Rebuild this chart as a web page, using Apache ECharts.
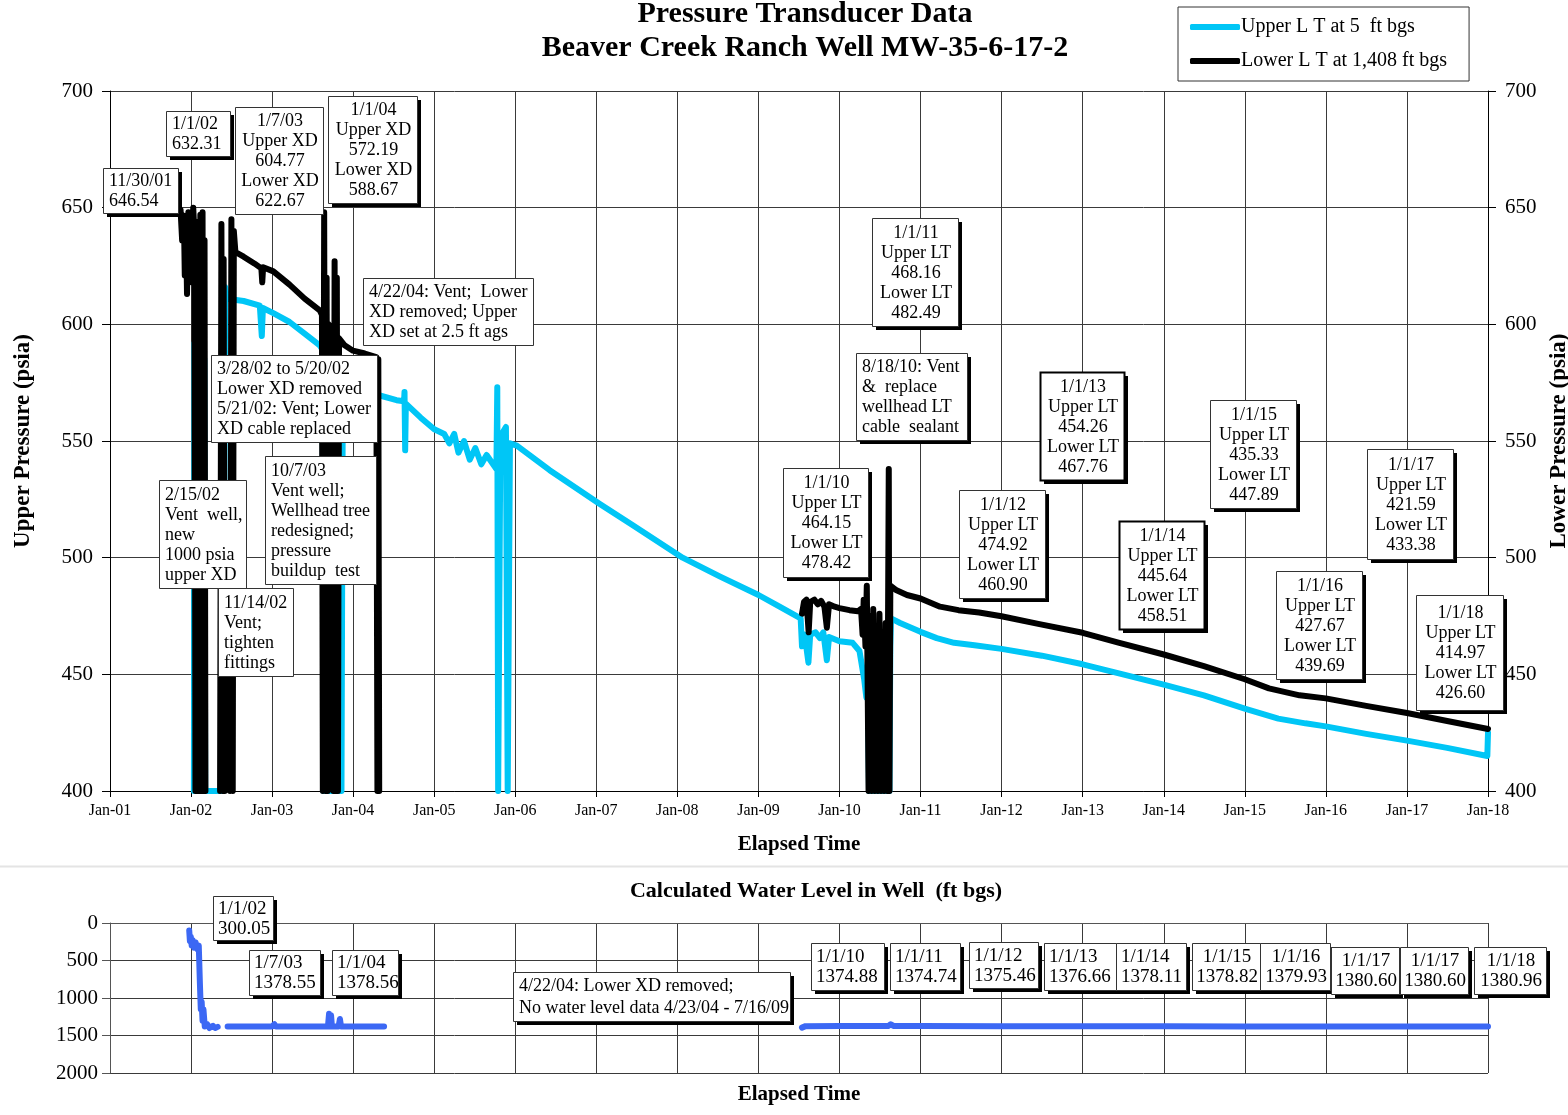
<!DOCTYPE html>
<html>
<head>
<meta charset="utf-8">
<script src="https://cdn.jsdelivr.net/npm/echarts@6/dist/echarts.min.js"></script>
<style>
  html, body { margin: 0; padding: 0; background: #fff; }
  #chart { width: 1568px; height: 1115px; }
</style>
</head>
<body>
<div id="chart"></div>
<script>
// Upper LT at 5 ft bgs (psia)
const upperLT = [
  ['2002-01-14', 400], ['2002-01-17', 592], ['2002-01-21', 400],
  ['2002-02-27', 400], ['2002-03-02', 585], ['2002-03-06', 400],
  ['2002-05-26', 400], ['2002-06-04', 616], ['2002-06-12', 611],
  ['2002-08-26', 610], ['2002-11-07', 608], ['2002-11-16', 595], ['2002-11-21', 607],
  ['2003-01-07', 604.8], ['2003-03-21', 601], ['2003-05-28', 596], ['2003-08-04', 591], ['2003-08-17', 589],
  ['2003-08-21', 400], ['2003-09-12', 400], ['2003-09-16', 550], ['2003-09-20', 400],
  ['2003-11-10', 400], ['2003-11-16', 574], ['2004-01-01', 572.2], ['2004-03-01', 571], ['2004-05-01', 569.5],
  ['2004-07-15', 567.5], ['2004-08-18', 567], ['2004-08-20', 571], ['2004-08-23', 546], ['2004-08-26', 566],
  ['2004-11-01', 560], ['2005-01-01', 555], ['2005-02-15', 553], ['2005-03-10', 549], ['2005-04-01', 553],
  ['2005-04-20', 545], ['2005-05-15', 550], ['2005-06-10', 542], ['2005-07-05', 547], ['2005-08-01', 540],
  ['2005-08-25', 544], ['2005-10-08', 538],
  ['2005-10-12', 573], ['2005-10-16', 400], ['2005-10-22', 400], ['2005-10-26', 552], ['2005-11-20', 556],
  ['2005-11-28', 400], ['2005-12-04', 400], ['2005-12-08', 549],
  ['2006-01-08', 548], ['2006-06-05', 537.5], ['2007-01-17', 523], ['2007-06-13', 514], ['2008-01-25', 500],
  ['2008-07-10', 492], ['2009-01-01', 484], ['2009-04-06', 479], ['2009-07-10', 474],
  ['2009-07-16', 462], ['2009-07-28', 467], ['2009-08-14', 455], ['2009-08-22', 467], ['2009-09-15', 468],
  ['2009-10-05', 465.5], ['2009-10-20', 468], ['2009-11-05', 456], ['2009-11-15', 466], ['2010-01-01', 464.2],
  ['2010-03-01', 463.5], ['2010-04-01', 460], ['2010-04-22', 448], ['2010-05-02', 440], ['2010-05-08', 452],
  ['2010-05-14', 400], ['2010-08-14', 400], ['2010-08-18', 462], ['2010-08-21', 474],
  ['2010-10-01', 472], ['2011-01-01', 468.2], ['2011-03-15', 465.5], ['2011-06-01', 463.5], ['2011-09-01', 462.5],
  ['2012-01-01', 460.9], ['2012-07-01', 458], ['2013-01-01', 454.3], ['2013-07-01', 450], ['2014-01-01', 445.6],
  ['2014-07-01', 441], ['2015-01-01', 435.3], ['2015-06-01', 431], ['2015-10-01', 429], ['2016-01-01', 427.7],
  ['2016-07-01', 424.5], ['2017-01-01', 421.6], ['2017-07-01', 418.5], ['2017-12-29', 415], ['2018-01-01', 425]
];

// Lower LT at 1,408 ft bgs (psia)
const lowerLT = [
  ['2001-11-15', 649], ['2001-11-22', 636], ['2001-11-30', 646.5], ['2001-12-04', 621], ['2001-12-09', 645],
  ['2001-12-14', 613], ['2001-12-20', 648], ['2001-12-26', 627], ['2002-01-01', 632.3], ['2002-01-06', 618],
  ['2002-01-11', 650], ['2002-01-17', 638], ['2002-01-21', 400], ['2002-01-25', 644], ['2002-01-29', 400],
  ['2002-02-02', 630], ['2002-02-07', 400], ['2002-02-12', 647], ['2002-02-17', 400], ['2002-02-22', 648],
  ['2002-02-27', 400], ['2002-03-03', 636], ['2002-03-07', 400], ['2002-03-08', null],
  ['2002-05-12', 400], ['2002-05-18', 643], ['2002-05-24', 400], ['2002-05-28', 628], ['2002-06-02', 400],
  ['2002-06-03', null],
  ['2002-06-26', 400], ['2002-07-02', 645], ['2002-07-08', 400], ['2002-07-13', 640], ['2002-07-20', 631],
  ['2002-08-26', 629], ['2002-10-15', 626], ['2002-11-14', 624], ['2002-11-18', 618], ['2002-11-22', 624.5],
  ['2003-01-07', 622.7], ['2003-03-21', 617], ['2003-05-28', 611], ['2003-08-04', 606], ['2003-08-14', 604],
  ['2003-08-18', 400], ['2003-08-24', 648], ['2003-08-30', 400], ['2003-09-04', 620], ['2003-09-09', 400],
  ['2003-09-13', 600], ['2003-10-02', 597], ['2003-10-05', 400], ['2003-10-10', 627], ['2003-10-15', 400],
  ['2003-10-20', 620], ['2003-10-25', 400], ['2003-10-30', 594], ['2003-11-24', 591], ['2004-01-01', 588.7],
  ['2004-02-23', 587.5], ['2004-04-15', 586], ['2004-04-20', 400], ['2004-04-24', 585], ['2004-04-28', 400],
  ['2004-04-29', null],
  ['2009-07-16', 476], ['2009-07-25', 481], ['2009-08-05', 482], ['2009-08-15', 468], ['2009-08-22', 481],
  ['2009-09-10', 482], ['2009-09-25', 480], ['2009-10-10', 481.5], ['2009-10-25', 479], ['2009-11-05', 470],
  ['2009-11-15', 480], ['2009-12-10', 479], ['2010-01-01', 478.4], ['2010-02-15', 477.5], ['2010-03-25', 477],
  ['2010-04-08', 478], ['2010-04-15', 467], ['2010-04-20', 482], ['2010-04-28', 462], ['2010-05-04', 488],
  ['2010-05-12', 400], ['2010-05-19', 475], ['2010-05-26', 400], ['2010-06-02', 478], ['2010-06-09', 400],
  ['2010-06-16', 470], ['2010-06-23', 400], ['2010-06-30', 476], ['2010-07-07', 400], ['2010-07-14', 468],
  ['2010-07-21', 400], ['2010-07-28', 472], ['2010-08-04', 400], ['2010-08-11', 538], ['2010-08-14', 400],
  ['2010-08-18', 488], ['2010-09-15', 486], ['2010-11-01', 484], ['2011-01-01', 482.5], ['2011-03-30', 479],
  ['2011-06-21', 477.5], ['2011-09-22', 476.5], ['2012-01-01', 474.9], ['2012-06-20', 471.5], ['2013-01-01', 467.8],
  ['2013-06-15', 463.5], ['2014-01-01', 458.5], ['2014-07-01', 453.5], ['2015-01-01', 447.9], ['2015-04-20', 444],
  ['2015-09-05', 441], ['2016-01-01', 439.7], ['2016-07-01', 436.5], ['2017-01-01', 433.4], ['2017-07-01', 430],
  ['2018-01-01', 426.6]
];

// Calculated water level in well (ft bgs)
const waterLevel = [
  ['2001-12-24', 100], ['2001-12-27', 240], ['2001-12-31', 180], ['2002-01-04', 300], ['2002-01-09', 230],
  ['2002-01-15', 330], ['2002-01-22', 260], ['2002-01-30', 350], ['2002-02-05', 300], ['2002-02-10', 800],
  ['2002-02-14', 1150], ['2002-02-18', 1050], ['2002-02-22', 1300], ['2002-02-26', 1150], ['2002-03-04', 1380],
  ['2002-03-15', 1350], ['2002-03-25', 1400], ['2002-04-10', 1370], ['2002-04-20', 1400], ['2002-05-01', 1385],
  ['2002-05-02', null],
  ['2002-06-15', 1380], ['2003-01-01', 1380], ['2003-01-07', 1378.6], ['2003-01-12', 1350], ['2003-01-18', 1380],
  ['2003-09-10', 1380], ['2003-09-15', 1210], ['2003-09-20', 1380], ['2003-09-24', 1230], ['2003-09-28', 1380],
  ['2003-10-28', 1380], ['2003-11-03', 1280], ['2003-11-08', 1380], ['2004-01-01', 1378.6], ['2004-05-20', 1380],
  ['2004-05-21', null],
  ['2009-07-16', 1395], ['2009-08-01', 1375], ['2010-01-01', 1374.9], ['2010-08-10', 1372], ['2010-08-20', 1350],
  ['2010-09-01', 1372], ['2011-01-01', 1374.7], ['2012-01-01', 1375.5], ['2013-01-01', 1376.7], ['2014-01-01', 1378.1],
  ['2015-01-01', 1378.8], ['2016-01-01', 1379.9], ['2017-01-01', 1380.6], ['2018-01-01', 1381]
];

const seriesNames = ['Upper L T at 5  ft bgs', 'Lower L T at 1,408 ft bgs', 'Water level'];

// annotation boxes of the pressure panel
const pressureNotes = [
  { x: 103, y: 168, w: 75, h: 45, align: 'left', shadow: true, lines: ['11/30/01', '646.54'] },
  { x: 166, y: 111, w: 64, h: 45, align: 'left', shadow: true, lines: ['1/1/02', '632.31'] },
  { x: 235, y: 107, w: 88, h: 107, align: 'center', shadow: false, lines: ['1/7/03', 'Upper XD', '604.77', 'Lower XD', '622.67'] },
  { x: 328, y: 96, w: 89, h: 107, align: 'center', shadow: true, lines: ['1/1/04', 'Upper XD', '572.19', 'Lower XD', '588.67'] },
  { x: 363, y: 278, w: 170, h: 67, align: 'left', shadow: false, lines: ['4/22/04: Vent;  Lower', 'XD removed; Upper', 'XD set at 2.5 ft ags'] },
  { x: 211, y: 355, w: 166, h: 87, align: 'left', shadow: false, lines: ['3/28/02 to 5/20/02', 'Lower XD removed', '5/21/02: Vent; Lower', 'XD cable replaced'] },
  { x: 159, y: 480, w: 87, h: 108, align: 'left', shadow: false, lines: ['2/15/02', 'Vent  well,', 'new', '1000 psia', 'upper XD'] },
  { x: 265, y: 456, w: 111, h: 128, align: 'left', shadow: false, lines: ['10/7/03', 'Vent well;', 'Wellhead tree', 'redesigned;', 'pressure', 'buildup  test'] },
  { x: 218, y: 588, w: 75, h: 88, align: 'left', shadow: false, lines: ['11/14/02', 'Vent;', 'tighten', 'fittings'] },
  { x: 783, y: 468, w: 85, h: 109, align: 'center', shadow: true, lines: ['1/1/10', 'Upper LT', '464.15', 'Lower LT', '478.42'] },
  { x: 872, y: 218, w: 86, h: 108, align: 'center', shadow: true, lines: ['1/1/11', 'Upper LT', '468.16', 'Lower LT', '482.49'] },
  { x: 856, y: 353, w: 111, h: 87, align: 'left', shadow: true, lines: ['8/18/10: Vent', '&  replace', 'wellhead LT', 'cable  sealant'] },
  { x: 959, y: 490, w: 86, h: 108, align: 'center', shadow: true, lines: ['1/1/12', 'Upper LT', '474.92', 'Lower LT', '460.90'] },
  { x: 1040, y: 372, w: 84, h: 108, align: 'center', shadow: true, bold: true, lines: ['1/1/13', 'Upper LT', '454.26', 'Lower LT', '467.76'] },
  { x: 1119, y: 521, w: 85, h: 108, align: 'center', shadow: true, bold: true, lines: ['1/1/14', 'Upper LT', '445.64', 'Lower LT', '458.51'] },
  { x: 1210, y: 400, w: 86, h: 108, align: 'center', shadow: true, lines: ['1/1/15', 'Upper LT', '435.33', 'Lower LT', '447.89'] },
  { x: 1276, y: 571, w: 86, h: 108, align: 'center', shadow: true, lines: ['1/1/16', 'Upper LT', '427.67', 'Lower LT', '439.69'] },
  { x: 1367, y: 449, w: 86, h: 110, align: 'center', shadow: true, lines: ['1/1/17', 'Upper LT', '421.59', 'Lower LT', '433.38'] },
  { x: 1416, y: 595, w: 87, h: 115, align: 'center', shadow: true, lines: ['1/1/18', 'Upper LT', '414.97', 'Lower LT', '426.60'] }
];

// annotation boxes of the water level panel
const levelNotes = [
  { x: 213, y: 896, w: 60, h: 44, align: 'left', shadow: true, lines: ['1/1/02', '300.05'] },
  { x: 249, y: 950, w: 71, h: 45, align: 'left', shadow: true, lines: ['1/7/03', '1378.55'] },
  { x: 332, y: 950, w: 66, h: 45, align: 'left', shadow: true, lines: ['1/1/04', '1378.56'] },
  { x: 513, y: 972, w: 277, h: 49, align: 'left', shadow: true, small: true, lines: ['4/22/04: Lower XD removed;', 'No water level data 4/23/04 - 7/16/09'] },
  { x: 811, y: 943, w: 73, h: 47, align: 'left', shadow: true, lines: ['1/1/10', '1374.88'] },
  { x: 890, y: 943, w: 70, h: 47, align: 'left', shadow: true, lines: ['1/1/11', '1374.74'] },
  { x: 969, y: 942, w: 69, h: 46, align: 'left', shadow: true, lines: ['1/1/12', '1375.46'] },
  { x: 1044, y: 943, w: 72, h: 47, align: 'left', shadow: true, lines: ['1/1/13', '1376.66'] },
  { x: 1116, y: 943, w: 70, h: 47, align: 'left', shadow: true, lines: ['1/1/14', '1378.11'] },
  { x: 1192, y: 943, w: 68, h: 47, align: 'center', shadow: true, lines: ['1/1/15', '1378.82'] },
  { x: 1260, y: 943, w: 70, h: 47, align: 'center', shadow: true, lines: ['1/1/16', '1379.93'] },
  { x: 1331, y: 947, w: 68, h: 47, align: 'center', shadow: true, lines: ['1/1/17', '1380.60'] },
  { x: 1400, y: 947, w: 68, h: 47, align: 'center', shadow: true, lines: ['1/1/17', '1380.60'] },
  { x: 1474, y: 947, w: 72, h: 47, align: 'center', shadow: true, lines: ['1/1/18', '1380.96'] }
];

const FONT = '"Liberation Serif", "Times New Roman", serif';

function noteBox(n, fontSize, lineHeight, pad) {
  const children = [];
  if (n.shadow) {
    children.push({ type: 'rect', z: 100, shape: { x: 4, y: 4, width: n.w, height: n.h }, style: { fill: '#000' } });
  }
  children.push({
    type: 'rect', z: 101,
    shape: { x: 0.5, y: 0.5, width: n.w, height: n.h },
    style: { fill: '#fff', stroke: n.bold ? '#000' : '#333', lineWidth: n.bold ? 2 : 1 }
  });
  children.push({
    type: 'text', z: 102,
    x: n.align === 'center' ? n.w / 2 + 1 : pad,
    y: n.h / 2 + 1,
    style: {
      text: n.lines.join('\n'),
      font: fontSize + 'px ' + FONT,
      fill: '#000',
      align: n.align,
      verticalAlign: 'middle',
      lineHeight: lineHeight
    }
  });
  return { type: 'group', x: n.x, y: n.y, children: children };
}

const chart = echarts.init(document.getElementById('chart'), null, { renderer: 'canvas' });

const gridLine = { show: true, lineStyle: { color: '#3a3a3a', width: 1 } };
const dayMs = 3600 * 24 * 1000;
const axisNameStyle = { fontFamily: FONT, fontSize: 23, fontWeight: 'bold', color: '#000' };

const option = {
  animation: false,
  backgroundColor: '#fff',
  textStyle: { fontFamily: FONT, color: '#000' },
  title: [
    {
      text: 'Pressure Transducer Data\nBeaver Creek Ranch Well MW-35-6-17-2',
      left: 805, top: -3, textAlign: 'center', padding: 0,
      textStyle: { fontFamily: FONT, fontSize: 30, fontWeight: 'bold', lineHeight: 34, color: '#000' }
    },
    {
      text: 'Calculated Water Level in Well  (ft bgs)',
      left: 816, top: 880, textAlign: 'center', padding: 0,
      textStyle: { fontFamily: FONT, fontSize: 22, fontWeight: 'bold', color: '#000' }
    }
  ],
  legend: {
    data: [seriesNames[0], seriesNames[1]],
    orient: 'vertical',
    left: 1178, top: 7,
    borderColor: '#333', borderWidth: 1,
    padding: [10, 22, 10, 12],
    itemGap: 14,
    itemWidth: 50, itemHeight: 6,
    icon: 'roundRect',
    textStyle: { fontFamily: FONT, fontSize: 20, color: '#000', padding: [0, 0, 0, -4] }
  },
  grid: [
    { left: 110, top: 91, width: 1378, height: 700, containLabel: false, outerBoundsMode: 'none' },
    { left: 110, top: 923, width: 1378, height: 150, containLabel: false, outerBoundsMode: 'none' }
  ],
  xAxis: [
    {
      type: 'time', gridIndex: 0,
      min: '2001-01-01', max: '2018-01-01',
      splitNumber: 17, minInterval: 360 * dayMs, maxInterval: 370 * dayMs,
      name: 'Elapsed Time', nameLocation: 'middle', nameGap: 43,
      nameTextStyle: Object.assign({}, axisNameStyle, { fontSize: 21 }),
      axisLine: { lineStyle: { color: '#000' } },
      axisTick: { show: true, length: 6, lineStyle: { color: '#000' } },
      axisLabel: {
        formatter: '{MMM}-{yy}', fontFamily: FONT, fontSize: 16, color: '#000', margin: 12,
        hideOverlap: false, showMinLabel: true, showMaxLabel: true
      },
      splitLine: gridLine
    },
    {
      type: 'time', gridIndex: 1,
      min: '2001-01-01', max: '2018-01-01',
      splitNumber: 17, minInterval: 360 * dayMs, maxInterval: 370 * dayMs,
      name: 'Elapsed Time', nameLocation: 'middle', nameGap: 11,
      nameTextStyle: Object.assign({}, axisNameStyle, { fontSize: 21 }),
      axisLine: { lineStyle: { color: '#555' } },
      axisTick: { show: false },
      axisLabel: { show: false },
      splitLine: gridLine
    }
  ],
  yAxis: [
    {
      type: 'value', gridIndex: 0, position: 'left',
      min: 400, max: 700, interval: 50,
      name: 'Upper Pressure (psia)', nameLocation: 'middle', nameGap: 75,
      nameTextStyle: axisNameStyle,
      axisLine: { show: true, lineStyle: { color: '#000' } },
      axisTick: { show: true, length: 8, lineStyle: { color: '#000' } },
      axisLabel: { fontFamily: FONT, fontSize: 21, color: '#000', margin: 17 },
      splitLine: gridLine
    },
    {
      type: 'value', gridIndex: 0, position: 'right',
      min: 400, max: 700, interval: 50,
      name: 'Lower Pressure (psia)', nameLocation: 'middle', nameGap: 54, nameRotate: 90,
      nameTextStyle: axisNameStyle,
      axisLine: { show: true, lineStyle: { color: '#000' } },
      axisTick: { show: true, length: 8, lineStyle: { color: '#000' } },
      axisLabel: { fontFamily: FONT, fontSize: 21, color: '#000', margin: 17 },
      splitLine: { show: false }
    },
    {
      type: 'value', gridIndex: 1, inverse: true,
      min: 0, max: 2000, interval: 500,
      axisLine: { show: true, lineStyle: { color: '#555' } },
      axisTick: { show: true, length: 8, lineStyle: { color: '#555' } },
      axisLabel: { fontFamily: FONT, fontSize: 21, color: '#000', margin: 12, formatter: v => String(v) },
      splitLine: gridLine
    }
  ],
  series: [
    {
      name: seriesNames[0], type: 'line', xAxisIndex: 0, yAxisIndex: 0,
      data: upperLT, showSymbol: false, symbol: 'none', connectNulls: false,
      color: '#00c6f6', lineStyle: { width: 6, color: '#00c6f6', cap: 'round', join: 'round' }, z: 3
    },
    {
      name: seriesNames[1], type: 'line', xAxisIndex: 0, yAxisIndex: 1,
      data: lowerLT, showSymbol: false, symbol: 'none', connectNulls: false,
      color: '#000', lineStyle: { width: 6, color: '#000', cap: 'round', join: 'round' }, z: 4
    },
    {
      name: seriesNames[2], type: 'line', xAxisIndex: 1, yAxisIndex: 2,
      data: waterLevel, showSymbol: false, symbol: 'none', connectNulls: false,
      color: '#3c68f4', lineStyle: { width: 6, color: '#3c68f4', cap: 'round', join: 'round' }, z: 3
    }
  ],
  graphic: [
    { type: 'line', z: 1, shape: { x1: 0, y1: 866.5, x2: 1568, y2: 866.5 }, style: { stroke: '#e4e4e4', lineWidth: 2 } }
  ]
    .concat(pressureNotes.map(n => noteBox(n, 18, 20, 6)))
    .concat(levelNotes.map(n => n.small ? noteBox(n, 18, 22, 6) : noteBox(n, 19, 20, 5)))
};

chart.setOption(option);
</script>
</body>
</html>
